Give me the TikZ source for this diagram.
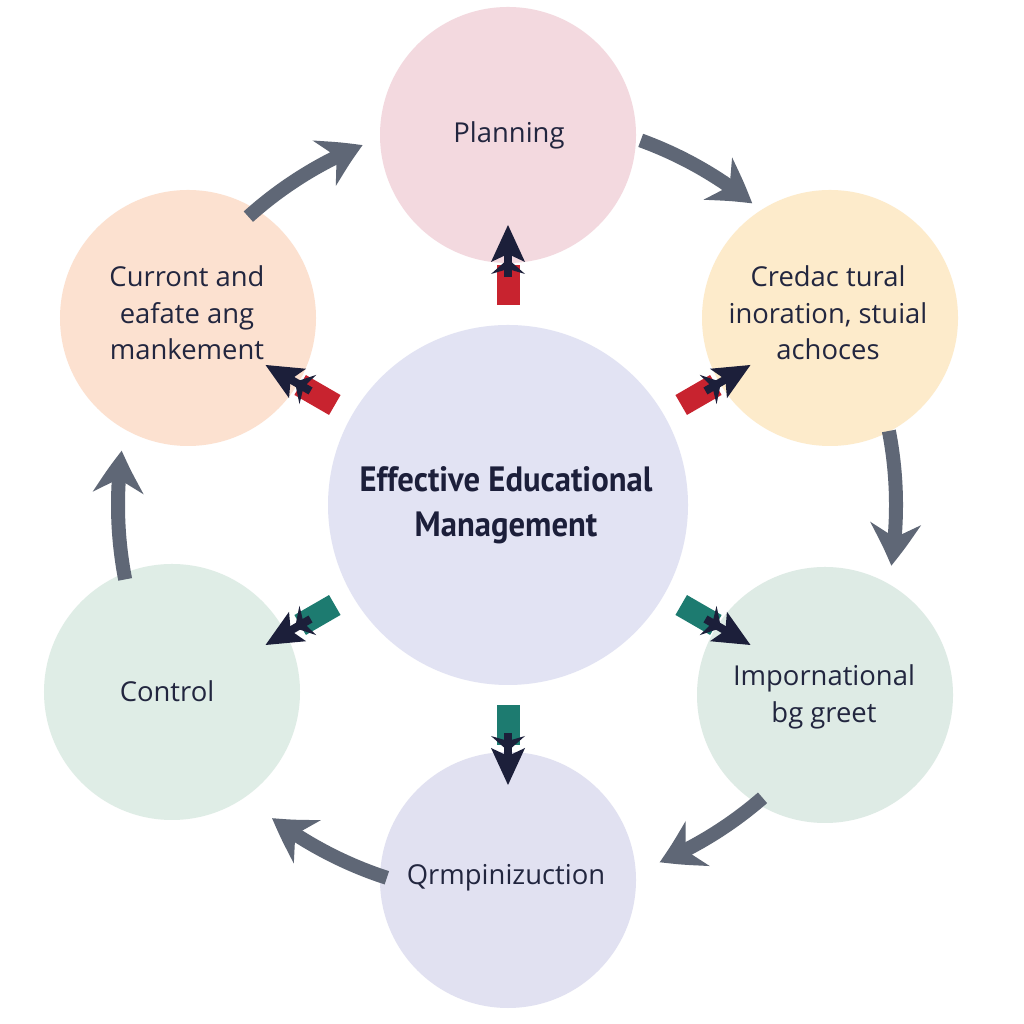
\documentclass[tikz,border=0pt]{standalone}
\usepackage{fontspec}
\setmainfont{Open Sans}
\newfontfamily\titlefont[FakeStretch=0.93]{PT Sans}
\usetikzlibrary{arrows.meta,calc,bending}
\definecolor{plc}{HTML}{F3D9DF}
\definecolor{trc}{HTML}{FDEBCB}
\definecolor{brc}{HTML}{DEEBE5}
\definecolor{boc}{HTML}{E1E1F1}
\definecolor{coc}{HTML}{DFEDE6}
\definecolor{tlc}{HTML}{FCE1D0}
\definecolor{cec}{HTML}{E2E3F3}
\definecolor{txt}{HTML}{22263F}
\definecolor{flowgray}{HTML}{5F6776}
\definecolor{dk}{HTML}{1C1F3A}
\definecolor{redc}{HTML}{C8232F}
\definecolor{tealc}{HTML}{1D7B70}
\tikzset{
  circ/.style={circle, minimum size=64mm, inner sep=0pt},
  lbl/.style={inner sep=0pt, text=txt, font=\fontsize{19.5}{26}\selectfont, align=center},
  flow/.style={draw=flowgray, line width=3.5mm,
    -{Stealth[length=10.5mm,width=12.5mm,inset=3.4mm,bend]}},
}
\newcommand{\spoke}[2]{%
  \begin{scope}[shift={(C.center)},rotate=#1]
    \fill[#2] (200,-11.5) rectangle (240,11.5);
    \fill[dk] (246,0) -- (231,-17) -- (236,0) -- (231,17) -- cycle;
    \draw[dk, line width=2mm] (228,0) -- (252,0);
    \fill[dk] (280,0) -- (243,-17) -- (251,0) -- (243,17) -- cycle;
  \end{scope}}
\begin{document}
\begin{tikzpicture}[x=0.25mm,y=0.25mm]
\fill[white] (0,0) rectangle (1024,1024);
\useasboundingbox (0,0) rectangle (1024,1024);
% circles
\node[circ, fill=cec, minimum size=90mm] (C) at (508,519) {};
\node[circ, fill=plc] (P) at (508,889) {};
\node[circ, fill=trc] (TR) at (830,706) {};
\node[circ, fill=brc] (BR) at (825,329) {};
\node[circ, fill=boc] (BO) at (508,144) {};
\node[circ, fill=coc] (CO) at (172,332) {};
\node[circ, fill=tlc] (TL) at (188,706) {};
% labels
\node[lbl, font=\titlefont\bfseries\fontsize{25}{32}\selectfont, text=dk] (Ct) at (506,519) {Effective Educational\\Management};
\node[lbl] (Pt) at (509,889) {Planning};
\node[lbl] (TRt) at (828,711) {Credac tural\\inoration, stuial\\achoces};
\node[lbl] (BRt) at (824,327) {Impornational\\bg greet};
\node[lbl] (BOt) at (506,146) {Qrmpinizuction};
\node[lbl] (COt) at (167,333) {Control};
\node[lbl] (TLt) at (187,711) {Curront and\\eafate ang\\mankement};
% spokes
\spoke{90}{redc}
\spoke{30}{redc}
\spoke{150}{redc}
\spoke{210}{tealc}
\spoke{270}{tealc}
\spoke{330}{tealc}
% flow arcs
\coordinate (s1) at ($(C.center)+(132:388)$);
\coordinate (s2) at ($(C.center)+(70:388)$);
\coordinate (s3) at ($(C.center)+(11:388)$);
\coordinate (s4) at ($(C.center)+(-49:388)$);
\coordinate (s5) at ($(C.center)+(-108:392)$);
\coordinate (s6) at ($(C.center)+(191:390)$);
\draw[flow] (s1) arc[start angle=132, end angle=112, radius=388];
\draw[flow] (s2) arc[start angle=70, end angle=51, radius=388];
\draw[flow] (s3) arc[start angle=11, end angle=-9, radius=388];
\draw[flow] (s4) arc[start angle=-49, end angle=-67, radius=388];
\draw[flow] (s5) arc[start angle=-108, end angle=-127, radius=392];
\draw[flow] (s6) arc[start angle=191, end angle=172, radius=390];
\end{tikzpicture}
\end{document}
